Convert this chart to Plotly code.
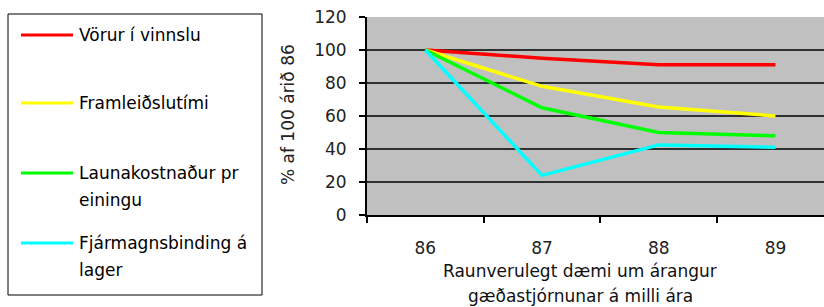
import plotly.graph_objects as go

years = ["86", "87", "88", "89"]
series_names = ["Vörur í vinnslu", "Framleiðslutími", "Launakostnaður pr<br>einingu", "Fjármagnsbinding á<br>lager"]
vorur = [100, 95, 91, 91]
framleidslutimi = [100, 78, 65.5, 60]
launakostnadur = [100, 65, 50, 48]
fjarmagnsbinding = [100, 24, 42.5, 41]
colors = ["#FF0000", "#FFFF00", "#00FF00", "#00FFFF"]
y_ticks = [0, 20, 40, 60, 80, 100, 120]
y_title = "% af 100 árið 86"
x_title_lines = ["Raunverulegt dæmi um árangur", "gæðastjórnunar á milli ára"]

W, H = 824, 307
L, R, T, B = 367, 824, 17, 215
FONT = "DejaVu Sans"


def px(x):
    return (x - L) / (R - L)


def py(y):
    return (B - y) / (B - T)


fig = go.Figure()
for name, vals, col in zip(series_names, [vorur, framleidslutimi, launakostnadur, fjarmagnsbinding], colors):
    fig.add_trace(go.Scatter(x=years, y=vals, mode="lines", name=name,
                             line=dict(color=col, width=3.5), showlegend=False))

shapes = []
for v in y_ticks[1:-1]:
    shapes.append(dict(type="line", xref="paper", yref="y", x0=0, x1=1, y0=v, y1=v,
                       line=dict(color="black", width=1.6), layer="below"))

# legend box
shapes.append(dict(type="rect", xref="paper", yref="paper", x0=px(8), x1=px(262), y0=py(14), y1=py(295),
                   line=dict(color="black", width=1), fillcolor="white", layer="above"))
annotations = []
leg_y = [35, 103, 173, 243]
for name, col, ly in zip(series_names, colors, leg_y):
    shapes.append(dict(type="line", xref="paper", yref="paper", x0=px(21), x1=px(73), y0=py(ly), y1=py(ly),
                       line=dict(color=col, width=3), layer="above"))
    for i, part in enumerate(name.split("<br>")):
        annotations.append(dict(xref="paper", yref="paper", x=px(77), y=py(ly + 27 * i), text=part,
                                showarrow=False, xanchor="left", yanchor="middle", align="left",
                                font=dict(family=FONT, size=17, color="black")))

annotations.append(dict(xref="paper", yref="paper", x=px(288), y=py(115), text=y_title, showarrow=False,
                        textangle=-90, xanchor="center", yanchor="middle",
                        font=dict(family=FONT, size=17, color="#222")))
for t, yy in zip(x_title_lines, [271, 296]):
    annotations.append(dict(xref="paper", yref="paper", x=px(580), y=py(yy), text=t, showarrow=False,
                            xanchor="center", yanchor="middle",
                            font=dict(family=FONT, size=17, color="#111")))

fig.update_layout(
    width=W, height=H,
    margin=dict(l=L, r=W - R, t=T, b=H - B, pad=0),
    paper_bgcolor="white", plot_bgcolor="#C0C0C0",
    shapes=shapes, annotations=annotations,
    showlegend=False,
    font=dict(family=FONT),
    xaxis=dict(type="category", categoryorder="array", categoryarray=years,
               range=[-0.5, -0.5 + (R - L) / 116.7], tickson="boundaries",
               ticks="outside", ticklen=6, tickcolor="black", tickwidth=1.5,
               showline=True, linecolor="black", linewidth=2, showgrid=False,
               ticklabelstandoff=17,
               tickfont=dict(family=FONT, size=17, color="#222")),
    yaxis=dict(range=[0, 120], tickvals=y_ticks, ticks="outside", ticklen=6,
               tickcolor="black", tickwidth=1.5, showline=True, linecolor="black", linewidth=2,
               showgrid=False, zeroline=False, ticklabelstandoff=9,
               tickfont=dict(family=FONT, size=17, color="#222")),
)

fig.write_html("out.html", config={"displayModeBar": False},
               post_script="document.body.style.margin='0px';document.body.style.overflow='hidden';")
